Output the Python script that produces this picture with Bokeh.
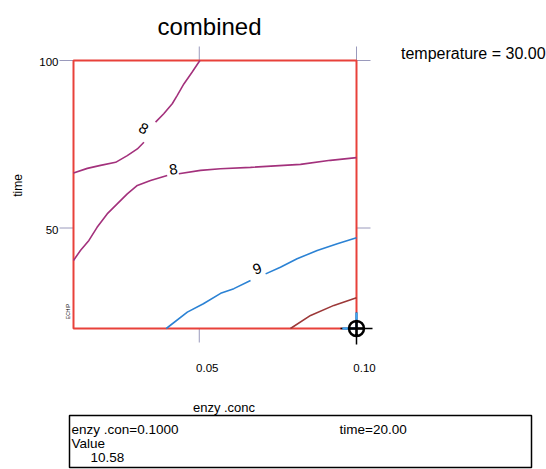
import math
from bokeh.plotting import figure
from bokeh.models import Range1d
from bokeh.core.properties import value
from bokeh.embed import file_html
from bokeh.resources import INLINE

nan = float("nan")

# ---- data ----
x_ticks = [0.05, 0.10]
x_tick_labels = ["0.05", "0.10"]
y_ticks = [50, 100]
y_tick_labels = ["50", "100"]

# contour level 8 (upper branch), split at its label
c8a_x = [0.0100, 0.0144, 0.0186, 0.0234, 0.0271, 0.0303, 0.0324, nan,
         0.0361, 0.0387, 0.0414, 0.0430, 0.0451, 0.0477, 0.0502]
c8a_y = [66.4, 67.8, 68.7, 69.6, 71.6, 73.6, 75.6, nan,
         81.6, 84.1, 87.1, 89.6, 93.0, 96.5, 100.0]
# contour level 8 (lower branch)
c8b_x = [0.0100, 0.0122, 0.0149, 0.0175, 0.0207, 0.0239, 0.0271, 0.0303, 0.0345, 0.0398, nan,
         0.0435, 0.0504, 0.0567, 0.0663, 0.0822, 0.0917, 0.1000]
c8b_y = [40.3, 43.3, 46.3, 50.2, 54.2, 57.2, 60.2, 62.7, 64.2, 65.7, nan,
         66.2, 67.2, 67.7, 68.1, 69.0, 70.2, 71.0]
# contour level 9
c9_x = [0.0395, 0.0462, 0.0513, 0.0568, 0.0610, 0.0663, nan,
        0.0711, 0.0758, 0.0811, 0.0875, 0.0939, 0.1000]
c9_y = [20.0, 24.9, 27.4, 30.5, 31.9, 34.3, nan,
        36.3, 38.3, 40.8, 43.3, 45.3, 47.1]
# contour level 10 (unlabelled)
c10_x = [0.0790, 0.0854, 0.0928, 0.1000]
c10_y = [20.0, 23.9, 26.9, 29.2]
# level hugging the corner
c11_x = [0.0955, 0.1000, 0.1000]
c11_y = [20.0, 20.0, 24.8]

# contour labels
lab_text = ["8", "8", "9"]
lab_x = [0.0323, 0.0418, 0.0684]
lab_y = [79.7, 67.5, 37.8]
lab_angle = [-0.5, 0.15, 0.35]

# probe point
probe_x = [0.10]
probe_y = [20.0]

title_text = "combined"
temp_text = "temperature = 30.00"
x_label = "enzy .conc"
y_label = "time"
info_left = ["enzy .con=0.1000", "Value", "10.58"]
info_right = ["time=20.00"]

# ---- layout constants (pixels) ----
W, H = 546, 469
FL, FR, FT, FB = 73, 356, 60, 328    # plot box
X0, X1, Y0, Y1 = 0.01, 0.10, 20, 100  # axis extents
TICK_LEN = 14

SX = (X1 - X0) / (FR - FL)
SY = (Y1 - Y0) / (FB - FT)

def px2x(px):
    return X0 + (px - FL) * SX

def py2y(py):
    return Y0 + (FB - py) * SY

FONT = "Liberation Sans"
PURPLE = "#a3317c"
BLUE = "#2b82d4"
BROWN = "#9c3838"
RED = "#e8413a"
TICK = "#9a9abc"
LBLUE = "#3fa6f2"

p = figure(width=W, height=H,
           x_range=Range1d(px2x(0), px2x(W)), y_range=Range1d(py2y(H), py2y(0)),
           output_backend="svg", toolbar_location=None,
           min_border=0, min_border_left=0, min_border_right=0,
           min_border_top=0, min_border_bottom=0,
           x_axis_location=None, y_axis_location=None)
p.grid.visible = False
p.outline_line_color = None
p.background_fill_color = "white"
p.border_fill_color = "white"

def txt(xs, ys, texts, size, align="left", baseline="alphabetic", angle=0.0):
    p.text(x=xs, y=ys, text=texts, angle=angle, text_font=value(FONT),
           text_font_size=size, text_color="black", text_align=align,
           text_baseline=baseline)

# ---- axes: ticks on all four sides, labels left and bottom ----
p.segment(x0=x_ticks, y0=[Y0] * 2, x1=x_ticks, y1=[Y0 - TICK_LEN * SY] * 2,
          line_color=TICK, line_width=1)
p.segment(x0=x_ticks, y0=[Y1] * 2, x1=x_ticks, y1=[Y1 + TICK_LEN * SY] * 2,
          line_color=TICK, line_width=1)
p.segment(x0=[X0] * 2, y0=y_ticks, x1=[X0 - TICK_LEN * SX] * 2, y1=y_ticks,
          line_color=TICK, line_width=1)
p.segment(x0=[X1] * 2, y0=y_ticks, x1=[X1 + TICK_LEN * SX] * 2, y1=y_ticks,
          line_color=TICK, line_width=1)

txt([t + 8 * SX for t in x_ticks], [Y0 - 39 * SY] * 2, x_tick_labels, "11.5px", align="center")
txt([X0 - 15 * SX] * 2, [t - 1.5 * SY for t in y_ticks], y_tick_labels, "11.5px",
    align="right", baseline="middle")

txt([px2x(223.5)], [py2y(407)], [x_label], "13px", align="center")
txt([px2x(17)], [py2y(185)], [y_label], "12px", align="center", baseline="middle",
    angle=math.pi / 2)

# plot box
p.quad(left=[X0], right=[X1], bottom=[Y0], top=[Y1], fill_color=None,
       line_color=RED, line_width=2)

# contours
p.line(c8a_x, c8a_y, line_color=PURPLE, line_width=1.6)
p.line(c8b_x, c8b_y, line_color=PURPLE, line_width=1.6)
p.line(c9_x, c9_y, line_color=BLUE, line_width=1.6)
p.line(c10_x, c10_y, line_color=BROWN, line_width=1.6)
p.text(x=lab_x, y=lab_y, text=lab_text, angle=lab_angle,
       text_font=value(FONT), text_font_size="15px", text_color="black",
       text_align="center", text_baseline="middle")

# probe marker
p.scatter(probe_x, probe_y, marker="cross", size=32, line_color="black", line_width=1.5)
p.line(c11_x, c11_y, line_color=LBLUE, line_width=2.5)
p.scatter(probe_x, probe_y, marker="circle_cross", size=15, line_color="black",
          line_width=2.5, fill_color=None)

# titles
txt([px2x(209)], [py2y(25.7)], [title_text], "24px", align="center")
txt([px2x(400.5)], [py2y(52.7)], [temp_text], "16px")
txt([px2x(67)], [py2y(311)], ["ECHIP"], "5px", align="center", baseline="middle",
    angle=math.pi / 2)

# ---- info box ----
BL, BR, BT, BB = 69, 531, 415, 467
p.quad(left=[px2x(BL)], right=[px2x(BR)], bottom=[py2y(BB)], top=[py2y(BT)],
       fill_color=None, line_color="black", line_width=1.5)
txt([px2x(71), px2x(71), px2x(90)], [py2y(428.5), py2y(442.5), py2y(456.5)],
    info_left, "13.5px")
txt([px2x(339)], [py2y(428.5)], info_right, "13.5px")

open("out.html", "w").write(file_html(p, INLINE))
